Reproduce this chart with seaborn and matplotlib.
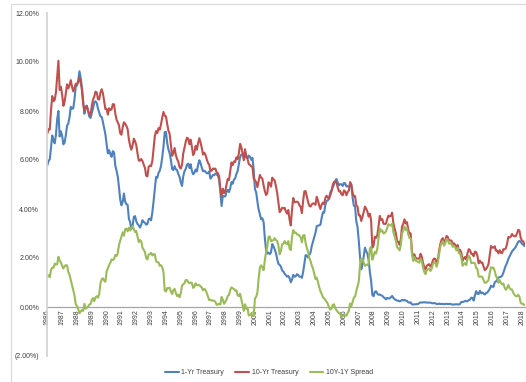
import numpy as np
import pandas as pd
import matplotlib
matplotlib.use("Agg")
import matplotlib.pyplot as plt
from matplotlib.lines import Line2D
from matplotlib.patches import Rectangle
import seaborn as sns

# Monthly readings, Jan (first point) onward
one_yr = [
    5.78, 5.96, 6.03, 6.50, 7.00, 6.80, 6.68, 7.03, 7.67, 8.00, 6.96, 7.17,
    6.99, 6.64, 6.71, 7.01, 7.40, 7.49, 7.75, 8.17, 8.09, 8.11, 8.48, 8.99,
    9.05, 9.25, 9.62, 9.36, 8.98, 8.44, 7.89, 8.18, 8.22, 7.99, 7.77, 7.72,
    7.92, 8.11, 8.35, 8.40, 8.32, 8.10, 7.94, 7.78, 7.76, 7.55, 7.31, 7.05,
    6.64, 6.27, 6.40, 6.24, 6.13, 6.36, 6.31, 5.78, 5.57, 5.33, 4.89, 4.38,
    4.15, 4.29, 4.63, 4.30, 4.19, 4.17, 3.60, 3.47, 3.18, 3.30, 3.68, 3.71,
    3.50, 3.39, 3.33, 3.24, 3.36, 3.54, 3.47, 3.44, 3.36, 3.39, 3.58, 3.61,
    3.54, 3.87, 4.32, 4.82, 5.31, 5.27, 5.48, 5.56, 5.76, 6.11, 6.54, 7.14,
    7.15, 6.70, 6.43, 6.27, 6.00, 5.64, 5.59, 5.75, 5.62, 5.59, 5.43, 5.31,
    5.09, 4.94, 5.34, 5.54, 5.64, 5.81, 5.85, 5.67, 5.83, 5.55, 5.42, 5.47,
    5.61, 5.53, 5.80, 5.99, 5.87, 5.69, 5.54, 5.56, 5.52, 5.46, 5.46, 5.53,
    5.24, 5.31, 5.39, 5.38, 5.44, 5.41, 5.36, 5.21, 4.71, 4.12, 4.53, 4.52,
    4.51, 4.70, 4.78, 4.69, 4.85, 5.10, 5.03, 5.20, 5.25, 5.43, 5.55, 5.84,
    6.12, 6.22, 6.22, 6.15, 6.33, 6.17, 6.08, 6.18, 6.13, 6.01, 6.09, 5.60,
    4.81, 4.68, 4.30, 3.98, 3.78, 3.58, 3.62, 3.47, 2.82, 2.33, 2.18, 2.22,
    2.16, 2.23, 2.57, 2.48, 2.35, 2.20, 1.96, 1.76, 1.72, 1.65, 1.49, 1.45,
    1.36, 1.30, 1.24, 1.27, 1.18, 1.01, 1.12, 1.31, 1.24, 1.25, 1.34, 1.31,
    1.24, 1.24, 1.19, 1.43, 1.78, 2.12, 2.10, 2.02, 2.12, 2.23, 2.50, 2.67,
    2.86, 3.03, 3.30, 3.32, 3.33, 3.36, 3.64, 3.87, 3.85, 4.18, 4.33, 4.35,
    4.45, 4.68, 4.77, 4.90, 5.00, 5.16, 5.22, 5.08, 4.97, 5.01, 5.01, 4.94,
    5.06, 5.05, 4.92, 4.93, 4.91, 4.96, 4.96, 4.47, 4.14, 4.10, 3.50, 3.26,
    2.71, 2.05, 1.54, 1.74, 2.06, 2.42, 2.28, 2.18, 1.91, 1.42, 1.07, 0.49,
    0.44, 0.62, 0.64, 0.55, 0.50, 0.51, 0.48, 0.46, 0.40, 0.37, 0.31, 0.37,
    0.35, 0.35, 0.40, 0.45, 0.37, 0.32, 0.29, 0.26, 0.26, 0.23, 0.25, 0.29,
    0.27, 0.29, 0.26, 0.25, 0.19, 0.18, 0.19, 0.11, 0.10, 0.11, 0.11, 0.12,
    0.12, 0.16, 0.19, 0.18, 0.19, 0.19, 0.19, 0.18, 0.18, 0.18, 0.18, 0.16,
    0.15, 0.16, 0.15, 0.12, 0.12, 0.14, 0.12, 0.13, 0.12, 0.12, 0.12, 0.13,
    0.12, 0.12, 0.13, 0.11, 0.10, 0.10, 0.11, 0.11, 0.11, 0.10, 0.13, 0.21,
    0.20, 0.22, 0.25, 0.23, 0.24, 0.28, 0.30, 0.38, 0.37, 0.26, 0.48, 0.65,
    0.54, 0.53, 0.66, 0.56, 0.59, 0.55, 0.51, 0.57, 0.59, 0.66, 0.74, 0.87,
    0.83, 0.82, 1.01, 1.04, 1.12, 1.20, 1.22, 1.23, 1.28, 1.40, 1.56, 1.70,
    1.80, 1.96, 2.06, 2.15, 2.27, 2.33, 2.39, 2.45, 2.56, 2.65, 2.70, 2.66,
    2.58, 2.55, 2.49,
]

ten_yr = [
    7.08, 7.25, 7.25, 8.02, 8.61, 8.40, 8.45, 8.76, 9.42, 10.05, 8.86, 8.99,
    8.67, 8.21, 8.37, 8.72, 9.09, 8.92, 9.06, 9.26, 8.98, 8.80, 8.96, 9.11,
    9.09, 9.17, 9.36, 9.18, 8.86, 8.28, 8.02, 8.11, 8.19, 8.01, 7.87, 7.84,
    8.21, 8.47, 8.59, 8.79, 8.76, 8.48, 8.47, 8.75, 8.89, 8.72, 8.39, 8.08,
    8.09, 7.85, 8.11, 8.04, 8.07, 8.28, 8.27, 7.90, 7.65, 7.53, 7.42, 7.09,
    7.03, 7.34, 7.54, 7.48, 7.39, 7.26, 6.84, 6.59, 6.42, 6.59, 6.87, 6.77,
    6.60, 6.26, 5.98, 5.97, 6.04, 5.96, 5.81, 5.68, 5.36, 5.33, 5.72, 5.77,
    5.75, 5.97, 6.48, 6.97, 7.18, 7.10, 7.30, 7.24, 7.46, 7.74, 7.96, 7.81,
    7.78, 7.47, 7.20, 7.06, 6.63, 6.17, 6.28, 6.49, 6.20, 6.04, 5.93, 5.71,
    5.65, 5.81, 6.27, 6.51, 6.74, 6.91, 6.87, 6.64, 6.83, 6.53, 6.20, 6.30,
    6.58, 6.42, 6.69, 6.89, 6.71, 6.49, 6.22, 6.30, 6.21, 6.03, 5.88, 5.81,
    5.54, 5.57, 5.65, 5.64, 5.65, 5.50, 5.46, 5.34, 4.81, 4.53, 4.83, 4.65,
    4.72, 5.00, 5.23, 5.18, 5.54, 5.90, 5.79, 5.94, 5.92, 6.11, 6.03, 6.28,
    6.66, 6.52, 6.26, 5.99, 6.44, 6.10, 6.05, 5.83, 5.80, 5.74, 5.72, 5.24,
    5.16, 5.10, 4.89, 5.14, 5.39, 5.28, 5.24, 4.97, 4.73, 4.57, 4.65, 5.09,
    5.04, 4.91, 5.28, 5.21, 5.16, 4.93, 4.65, 4.26, 3.87, 3.94, 4.05, 4.03,
    4.05, 3.90, 3.81, 3.96, 3.57, 3.33, 3.98, 4.45, 4.27, 4.29, 4.30, 4.27,
    4.15, 4.08, 3.83, 4.35, 4.72, 4.73, 4.50, 4.28, 4.13, 4.10, 4.19, 4.23,
    4.22, 4.17, 4.50, 4.34, 4.14, 4.00, 4.18, 4.26, 4.20, 4.46, 4.54, 4.47,
    4.42, 4.57, 4.72, 4.99, 5.11, 5.11, 5.09, 4.88, 4.72, 4.73, 4.60, 4.56,
    4.76, 4.72, 4.56, 4.69, 4.75, 5.10, 5.00, 4.67, 4.52, 4.53, 4.15, 4.10,
    3.74, 3.74, 3.51, 3.68, 3.88, 4.10, 4.01, 3.89, 3.69, 3.81, 3.53, 2.42,
    2.52, 2.87, 2.82, 2.93, 3.29, 3.72, 3.56, 3.59, 3.40, 3.39, 3.40, 3.59,
    3.73, 3.69, 3.73, 3.85, 3.42, 3.20, 3.01, 2.70, 2.65, 2.54, 2.76, 3.29,
    3.39, 3.58, 3.41, 3.46, 3.17, 3.00, 3.00, 2.30, 1.98, 2.15, 2.01, 1.98,
    1.97, 1.97, 2.17, 2.05, 1.80, 1.62, 1.53, 1.68, 1.72, 1.75, 1.65, 1.72,
    1.91, 1.98, 1.96, 1.76, 1.93, 2.30, 2.58, 2.74, 2.81, 2.62, 2.72, 2.90,
    2.86, 2.71, 2.72, 2.71, 2.56, 2.60, 2.54, 2.42, 2.53, 2.30, 2.33, 2.21,
    1.88, 1.98, 2.04, 1.94, 2.20, 2.36, 2.32, 2.17, 2.17, 2.07, 2.26, 2.24,
    2.09, 1.78, 1.89, 1.81, 1.81, 1.64, 1.50, 1.56, 1.63, 1.76, 2.14, 2.49,
    2.43, 2.42, 2.48, 2.30, 2.30, 2.19, 2.32, 2.21, 2.20, 2.36, 2.35, 2.40,
    2.58, 2.86, 2.84, 2.87, 2.98, 2.91, 2.89, 2.89, 3.00, 3.15, 3.12, 2.83,
    2.71, 2.68, 2.57,
]

year_labels = [str(y) for y in range(1986, 2019)]
series_names = ["1-Yr Treasury", "10-Yr Treasury", "10Y-1Y Spread"]
series_colors = ["#4F81BD", "#C0504D", "#9BBB59"]
y_ticks = [-2, 0, 2, 4, 6, 8, 10, 12]

n = len(ten_yr)
months = np.arange(n)
spread = np.round(np.array(ten_yr) - np.array(one_yr), 2)

df = pd.DataFrame({
    "month": np.tile(months, 3),
    "rate": np.concatenate([one_yr, ten_yr, spread]),
    "series": np.repeat(series_names, n),
})

sns.set_style("white")
plt.rcParams["font.family"] = ["Liberation Sans", "DejaVu Sans"]
text_color = "#404040"

W, H = 526, 382
fig = plt.figure(figsize=(W / 100, H / 100), dpi=100)
left_px, right_px, top_px, bot_px = 47.3, 525.0, 13.0, 356.0
ax = fig.add_axes([left_px / W, 1 - bot_px / H, (right_px - left_px) / W, (bot_px - top_px) / H])

sns.lineplot(
    data=df, x="month", y="rate", hue="series", hue_order=series_names,
    palette=dict(zip(series_names, series_colors)), linewidth=1.5,
    estimator=None, sort=False, legend=False, ax=ax,
)

ax.set_xlim(0, n - 0.5)
ax.set_ylim(-2, 12)
ax.set_xlabel("")
ax.set_ylabel("")

ax.set_yticks(y_ticks)
ax.set_yticklabels([f"({abs(v):.2f}%)" if v < 0 else f"{v:.2f}%" for v in y_ticks])
ax.set_xticks(np.arange(0, 12 * len(year_labels), 12))
ax.set_xticklabels(year_labels)

ax.tick_params(axis="x", length=0, pad=1.5, labelsize=5, colors=text_color, labelrotation=90)
ax.tick_params(axis="y", length=0, pad=5.8, labelsize=5, colors=text_color)
for lab in ax.get_xticklabels():
    lab.set_rotation(90)
    lab.set_ha("center")
    lab.set_va("top")

for s in ["top", "right"]:
    ax.spines[s].set_visible(False)
ax.spines["left"].set_color("#d4d4d4")
ax.spines["left"].set_linewidth(1.3)
ax.spines["bottom"].set_position(("data", 0))
ax.spines["bottom"].set_color("#a6a6a6")
ax.spines["bottom"].set_linewidth(0.9)
ax.spines["bottom"].set_zorder(0.5)

# chart-area border
fig.add_artist(Rectangle((11 / W, -0.02), 1.0, 1 - 4 / H + 0.02, transform=fig.transFigure,
                         fill=False, edgecolor="#d9d9d9", linewidth=0.8))

handles = [Line2D([], [], color=c, linewidth=1.5) for c in series_colors]
fig.legend(handles, series_names, loc="center", bbox_to_anchor=(269 / W, 1 - 373 / H),
           ncol=3, frameon=False, fontsize=5, handlelength=2.0, handletextpad=0.4,
           columnspacing=1.6, labelcolor=text_color)

fig.savefig("out.png", dpi=100)
